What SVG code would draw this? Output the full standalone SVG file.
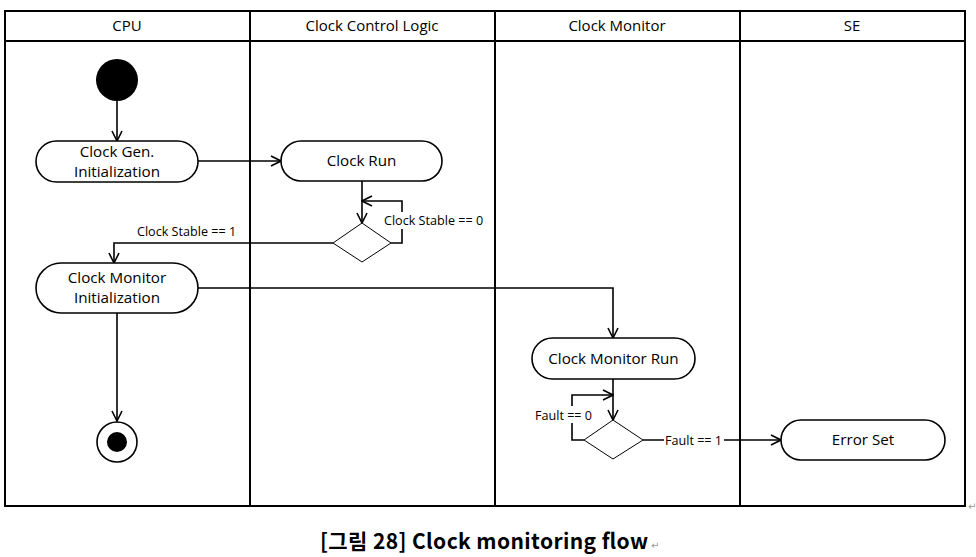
<svg xmlns="http://www.w3.org/2000/svg" width="976" height="557" viewBox="0 0 976 557">
<defs>
<marker id="arr" viewBox="0 0 12 12" refX="11" refY="6" markerWidth="12" markerHeight="12" markerUnits="userSpaceOnUse" orient="auto">
<polyline points="1,1 11,6 1,11" fill="none" stroke="#000" stroke-width="1.6"/>
</marker>
</defs>
<style>
.lane{fill:none;stroke:#000;stroke-width:2}
.hd{font-family:"Open Sans","Noto Sans",sans-serif;font-size:15px;fill:#000;text-anchor:middle}
.box{fill:#fff;stroke:#000;stroke-width:1.6}
.t{font-family:"Open Sans","Noto Sans",sans-serif;font-size:15.2px;fill:#000;text-anchor:middle}
.lbl{font-family:"Open Sans","Noto Sans",sans-serif;font-size:12.6px;fill:#000}
.bg{fill:#fff}
.c{fill:none;stroke:#000;stroke-width:1.6}
.dia{fill:#fff;stroke:#000;stroke-width:1}
.cap{font-family:"Noto Sans CJK KR","Noto Sans",sans-serif;font-size:21px;font-weight:bold;fill:#000}
.pm{font-family:"DejaVu Sans",sans-serif;font-size:10px;fill:#999}
</style>
<g id="lanes">
<rect class="lane" x="5" y="11" width="960" height="495"/>
<line class="lane" x1="5" y1="41" x2="965" y2="41"/>
<line class="lane" x1="250" y1="11" x2="250" y2="506"/>
<line class="lane" x1="495" y1="11" x2="495" y2="506"/>
<line class="lane" x1="740" y1="11" x2="740" y2="506"/>
<text class="hd" x="127" y="31">CPU</text>
<text class="hd" x="372" y="31">Clock Control Logic</text>
<text class="hd" x="617" y="31">Clock Monitor</text>
<text class="hd" x="852" y="31">SE</text>
</g>
<g id="connectors">
<line class="c" x1="117" y1="101" x2="117" y2="141" marker-end="url(#arr)"/>
<line class="c" x1="198" y1="161" x2="281" y2="161" marker-end="url(#arr)"/>
<line class="c" x1="362" y1="181" x2="362" y2="223" marker-end="url(#arr)"/>
<polyline class="c" points="391,243 402,243 402,201 362,201" marker-end="url(#arr)"/>
<polyline class="c" points="333,243 114,243 114,263" marker-end="url(#arr)"/>
<polyline class="c" points="198,288 613,288 613,338" marker-end="url(#arr)"/>
<line class="c" x1="117" y1="313" x2="117" y2="421" marker-end="url(#arr)"/>
<line class="c" x1="613" y1="379" x2="613" y2="420" marker-end="url(#arr)"/>
<polyline class="c" points="584,440 572,440 572,395 613,395" marker-end="url(#arr)"/>
<line class="c" x1="643" y1="440" x2="781" y2="440" marker-end="url(#arr)"/>
<rect class="bg" x="383" y="212" width="102" height="17"/>
<text class="lbl" x="384" y="225">Clock Stable == 0</text>
<text class="lbl" x="137" y="236">Clock Stable == 1</text>
<rect class="bg" x="534" y="406" width="56" height="17"/>
<text class="lbl" x="535" y="420">Fault == 0</text>
<rect class="bg" x="664" y="432" width="60" height="17"/>
<text class="lbl" x="665" y="445">Fault == 1</text>
</g>
<g id="start"><circle cx="117" cy="80" r="21" fill="#000"/></g>
<g id="clockGenInit">
<rect class="box" x="36" y="141" width="162" height="41" rx="20.5"/>
<text class="t" x="117" y="157">Clock Gen.</text>
<text class="t" x="117" y="177">Initialization</text>
</g>
<g id="clockRun">
<rect class="box" x="281" y="141" width="161" height="40" rx="20"/>
<text class="t" x="361.5" y="166">Clock Run</text>
</g>
<g id="stableDecision"><polygon class="dia" points="362,223 391,243 362,262 333,243"/></g>
<g id="clockMonInit">
<rect class="box" x="36" y="263" width="162" height="50" rx="25"/>
<text class="t" x="117" y="283">Clock Monitor</text>
<text class="t" x="117" y="303">Initialization</text>
</g>
<g id="clockMonRun">
<rect class="box" x="532" y="338" width="163" height="41" rx="20.5"/>
<text class="t" x="613.5" y="364">Clock Monitor Run</text>
</g>
<g id="faultDecision"><polygon class="dia" points="613,420 643,440 613,459 584,440"/></g>
<g id="errorSet">
<rect class="box" x="781" y="420" width="164" height="40" rx="20" stroke-width="1.2"/>
<text class="t" x="863" y="445">Error Set</text>
</g>
<g id="end">
<circle cx="117" cy="442" r="20" fill="#fff" stroke="#000" stroke-width="1.6"/>
<circle cx="117" cy="442" r="10" fill="#000"/>
</g>
<text class="cap" x="320" y="549" textLength="328" lengthAdjust="spacing">[그림 28] Clock monitoring flow</text>
<text class="pm" x="651" y="549">↵</text>
<text class="pm" x="968" y="510">↵</text>
</svg>
